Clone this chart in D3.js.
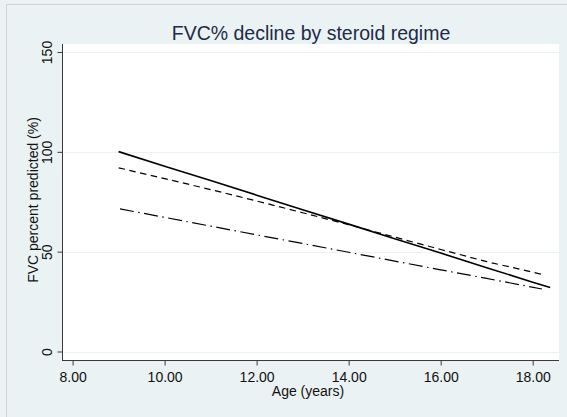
<!DOCTYPE html>
<html>
<head>
<meta charset="utf-8">
<script src="https://cdn.jsdelivr.net/npm/d3@7"></script>
<style>
  html, body { margin: 0; padding: 0; background: #eaf2f3; }
  svg { display: block; }
  text { font-family: Arial, "Liberation Sans", Helvetica, sans-serif; }
</style>
</head>
<body>
<svg id="chart" width="567" height="417"></svg>
<script>
// ---- Data ----
const titleText = "FVC% decline by steroid regime";
const xTitle = "Age (years)";
const yTitle = "FVC percent predicted (%)";
const xTicks = [8, 10, 12, 14, 16, 18];
const yTicks = [0, 50, 100, 150];

const solidAge = [9, 10, 11, 12, 13, 14, 15, 16, 17, 18, 18.38];
const solidFVC = [100.1, 92.8, 85.6, 78.3, 71.0, 63.8, 56.5, 49.3, 42.0, 34.7, 32.0];

const dashAge = [9, 10, 11, 12, 13, 14, 15, 16, 17, 18.27];
const dashFVC = [92.0, 86.6, 81.1, 75.4, 69.5, 63.5, 57.3, 51.1, 45.0, 38.3];

const dashDotAge = [9.03, 10, 11, 12, 13, 14, 15, 16, 17, 18.2];
const dashDotFVC = [71.4, 67.2, 62.8, 58.4, 54.1, 49.7, 45.3, 40.9, 36.6, 31.3];

const series = [
  { age: solidAge, fvc: solidFVC, dash: null, width: 1.6 },
  { age: dashAge, fvc: dashFVC, dash: "6.5,4.5", width: 1.2 },
  { age: dashDotAge, fvc: dashDotFVC, dash: "14,4.5,1.5,4.5", width: 1.2 }
];

// ---- Layout ----
const W = 567, H = 417;
const plot = { left: 63, right: 559, top: 44, bottom: 360 };
const svg = d3.select("#chart");

// outer frame
svg.append("rect").attr("x", 0).attr("y", 0).attr("width", W).attr("height", H).attr("fill", "#eaf2f3");
svg.append("path")
  .attr("d", `M6.5,${H} V4.5 H${W}`)
  .attr("fill", "none").attr("stroke", "#cfd3d5").attr("stroke-width", 1);

// plot region
svg.append("rect")
  .attr("x", plot.left).attr("y", plot.top)
  .attr("width", plot.right - plot.left).attr("height", plot.bottom - plot.top)
  .attr("fill", "#ffffff");

const x = d3.scaleLinear().domain([8, 18]).range([72.6, 532.7]);
const y = d3.scaleLinear().domain([0, 150]).range([351.5, 52]);

// gridlines
svg.append("g").selectAll("line").data(yTicks).join("line")
  .attr("x1", plot.left + 1).attr("x2", plot.right)
  .attr("y1", d => Math.round(y(d)) + 0.5).attr("y2", d => Math.round(y(d)) + 0.5)
  .attr("stroke", "#eaf2f3").attr("stroke-width", 1.2);

// axes
const axisColor = "#3a3a3a";
const xAxis = svg.append("g").attr("transform", `translate(0,${plot.bottom + 0.5})`)
  .call(d3.axisBottom(x).tickValues(xTicks).tickSize(5).tickPadding(7).tickFormat(d3.format(".2f")));
xAxis.select(".domain").remove();
xAxis.selectAll(".tick line").attr("stroke", axisColor);
xAxis.selectAll(".tick text").attr("font-size", 14).attr("fill", "#111")
  .attr("font-family", "Arial, 'Liberation Sans', sans-serif");

const yAxis = svg.append("g").attr("transform", `translate(${plot.left - 0.5},0)`)
  .call(d3.axisLeft(y).tickValues(yTicks).tickSize(5).tickFormat(d3.format("d")));
yAxis.select(".domain").remove();
yAxis.selectAll(".tick line").attr("stroke", axisColor);
yAxis.selectAll(".tick text")
  .attr("font-size", 14).attr("fill", "#111")
  .attr("font-family", "Arial, 'Liberation Sans', sans-serif")
  .attr("x", 0).attr("dy", null)
  .attr("text-anchor", "middle")
  .attr("transform", "translate(-10.5,0) rotate(-90)")
  .attr("y", 0);

// axis lines
svg.append("line").attr("x1", plot.left - 0.5).attr("x2", plot.left - 0.5)
  .attr("y1", plot.top).attr("y2", plot.bottom + 1).attr("stroke", axisColor);
svg.append("line").attr("x1", plot.left - 1).attr("x2", plot.right)
  .attr("y1", plot.bottom + 0.5).attr("y2", plot.bottom + 0.5).attr("stroke", axisColor);

// series lines
const line = d3.line().x(d => x(d[0])).y(d => y(d[1]));
series.forEach(s => {
  const pts = s.age.map((a, i) => [a, s.fvc[i]]);
  svg.append("path").datum(pts)
    .attr("d", line)
    .attr("fill", "none")
    .attr("stroke", "#000")
    .attr("stroke-width", s.width)
    .attr("stroke-dasharray", s.dash);
});

// titles
svg.append("text").attr("x", (plot.left + plot.right) / 2).attr("y", 40)
  .attr("text-anchor", "middle").attr("font-size", 19.5).attr("fill", "#1e2b48")
  .text(titleText);

svg.append("text").attr("x", 308).attr("y", 396)
  .attr("text-anchor", "middle").attr("font-size", 14).attr("fill", "#111")
  .text(xTitle);

svg.append("text")
  .attr("transform", `translate(37.5,200) rotate(-90)`)
  .attr("text-anchor", "middle").attr("font-size", 14).attr("fill", "#111")
  .text(yTitle);
</script>
</body>
</html>
